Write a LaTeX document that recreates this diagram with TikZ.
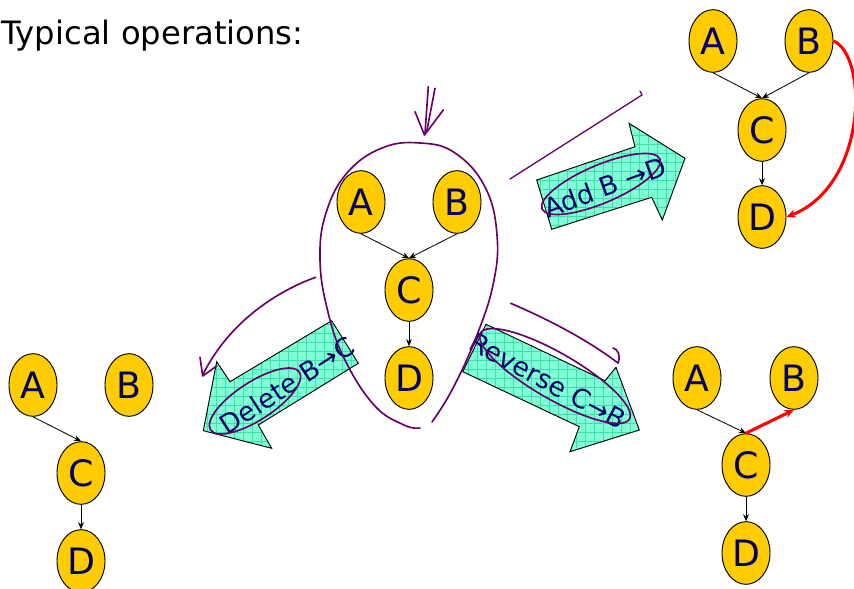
\documentclass[tikz,border=0pt]{standalone}
\usepackage{fontspec}
\setmainfont{DejaVu Sans}
\usetikzlibrary{shapes.geometric,arrows.meta}

\definecolor{varyellow}{RGB}{255,204,0}
\definecolor{varnavy}{RGB}{0,0,102}
\definecolor{penpurple}{RGB}{102,0,102}
\definecolor{mint}{RGB}{128,255,212}
\definecolor{mintgrid}{RGB}{60,222,178}

\tikzset{
  var/.style={ellipse, draw, line width=0.8pt, fill=varyellow, text=varnavy,
    minimum width=1.44cm, minimum height=1.88cm, inner sep=0pt,
    font=\fontsize{31}{31}\selectfont},
  edge/.style={-{Stealth[length=6pt,width=5pt]}, line width=0.7pt},
  change/.style={-{Stealth[length=8pt,width=7pt]}, line width=2.6pt, red},
  hand/.style={penpurple, line width=1.4pt, line cap=round, line join=round},
  optext/.style={text=varnavy, font=\fontsize{22.5}{22.5}\selectfont, inner sep=0pt}
}

\begin{document}
\begin{tikzpicture}[x=0.03cm,y=-0.03cm]
    \useasboundingbox (0,0) rectangle (854,589);

    % Title
    \node[anchor=base west, inner sep=0pt, font=\fontsize{27.5}{30}\selectfont] (title) at (1,44) {Typical operations:};

    % Draw the block arrows (fill, grid, outline)
    \def\addshape{(536.7,180) -- (635,146.7) -- (629,123.3) -- (685,158.3) -- (662.3,220) -- (651.7,197.3) -- (551.7,229.3) -- cycle}
    \def\delshape{(331.7,320.7) -- (358.3,363.3) -- (258.3,425) -- (271.7,448.3) -- (203.3,430.7) -- (216.7,361.7) -- (230,381.7) -- cycle}
    \def\revshape{(486,324.3) -- (605,380.7) -- (616,367.3) -- (639.3,430) -- (570,451.7) -- (579.3,426.7) -- (462.7,371.7) -- cycle}
    \foreach \shape/\xa/\xb/\ya/\yb in {\addshape/531/693/117/234, \delshape/198/360/315/459, \revshape/459/648/315/459}{
      \begin{scope}
        \clip \shape;
        \fill[mint] (\xa,\ya) rectangle (\xb,\yb);
        \foreach \gx in {\xa,\the\numexpr\xa+9\relax,...,\xb}
          \draw[mintgrid, line width=0.4pt] (\gx,\ya) -- (\gx,\yb);
        \foreach \gy in {\ya,\the\numexpr\ya+9\relax,...,\yb}
          \draw[mintgrid, line width=0.4pt] (\xa,\gy) -- (\xb,\gy);
      \end{scope}
      \draw[line width=0.8pt] \shape;
    }

    % Labels on the block arrows
    \node[optext, rotate=20] (addlbl) at (605,187) {Add B →D};
    \node[optext, rotate=33] (dellbl) at (287,385) {Delete B→C};
    \node[optext, rotate=-28] (revlbl) at (548,381) {Reverse C→B};

    % Middle network
    \node[var] (A) at (361,202) {A};
    \node[var] (B) at (457,202) {B};
    \node[var] (C) at (409,290) {C};
    \node[var] (D) at (409,378) {D};
    \draw[edge] (A.south) -- (C.north);
    \draw[edge] (B.south) -- (C.north);
    \draw[edge] (C) -- (D);

    % Network after adding B -> D
    \node[var] (A1) at (713,41) {A};
    \node[var] (B1) at (809,41) {B};
    \node[var] (C1) at (762,130) {C};
    \node[var] (D1) at (762,217) {D};
    \draw[edge] (A1.south) -- (C1.north);
    \draw[edge] (B1.south) -- (C1.north);
    \draw[edge] (C1) -- (D1);
    \draw[change] (B1.east) .. controls (868,55) and (868,185) .. (D1.east);

    % Network after deleting B -> C
    \node[var] (A2) at (33,385) {A};
    \node[var] (B2) at (129,385) {B};
    \node[var] (C2) at (81,473) {C};
    \node[var] (D2) at (81,561) {D};
    \draw[edge] (A2.south) -- (C2.north);
    \draw[edge] (C2) -- (D2);

    % Network after reversing C -> B
    \node[var] (A3) at (697,378) {A};
    \node[var] (B3) at (794,378) {B};
    \node[var] (C3) at (746,465) {C};
    \node[var] (D3) at (746,553) {D};
    \draw[edge] (A3.south) -- (C3.north);
    \draw[edge] (C3) -- (D3);
    \draw[change] (C3.north) -- (B3.south);

    % Pen marks: loop round the middle network and the arrow above it
    \draw[hand] plot[smooth, tension=0.7] coordinates {(432,422) (452,390) (475,340) (493,285) (497,235) (485,187) (455,153) (420,143) (382,148) (347,173) (326,213) (320,258) (327,308) (344,358) (374,405) (404,425) (420,428)};
    \draw[hand] (428.3,86.7) -- (425,133.3);
    \draw[hand] (435,88.3) -- (426.7,131.7);
    \draw[hand] (415,111.7) -- (424.5,135) -- (443.3,110);

    % Pen marks near Add
    \draw[hand, line width=1.1pt] (510,179) -- (642,95) -- (640,91);
    \draw[hand, rotate around={23:(601,184)}] (601,184) ellipse (64 and 19);

    % Pen marks near Delete
    \draw[hand] (315.7,277.3) .. controls (280,290) and (230,320) .. (202.7,375);
    \draw[hand] (200,357.3) -- (202.7,376) -- (216.7,366);
    \draw[hand, rotate around={33:(255,401)}] (255,401) ellipse (53 and 19);

    % Pen marks near Reverse
    \draw[hand] (510.7,303.3) .. controls (545,318) and (585,338) .. (618,363);
    \draw[hand] (618,363) .. controls (621,356) and (618,349) .. (613,348);
    \draw[hand, rotate around={-30:(555,376)}] (555,376) ellipse (86 and 23);

\end{tikzpicture}
\end{document}
